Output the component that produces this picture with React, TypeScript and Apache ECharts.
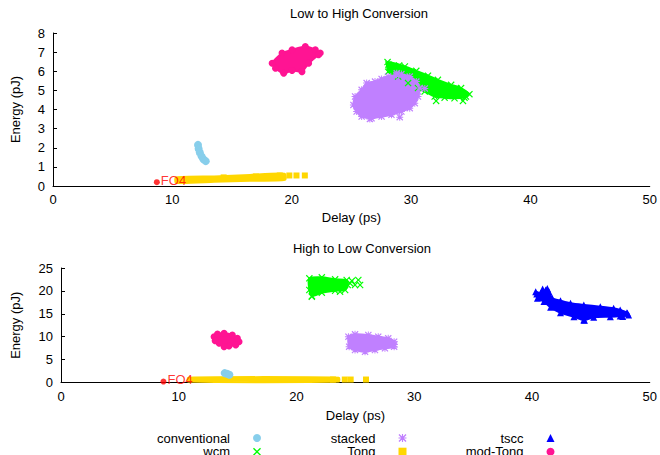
import React, { useEffect, useRef } from "react";
import * as echarts from "echarts";

const FONT = "'Liberation Sans', Arial, sans-serif";

const seriesNames = ["conventional", "wcm", "stacked", "Tong", "tscc", "mod-Tong"];
const seriesColors = ["#87ceeb", "#00ff00", "#c080ff", "#ffd700", "#0000ff", "#ff1493"];
const titles = ["Low to High Conversion", "High to Low Conversion"];
const xTickStep = 10;
const xMax = 50;
const yMaxes = [8, 25];
const ySteps = [1, 5];

// ---------- Top chart: Low to High Conversion (delay ps, energy pJ) ----------
const lhFO4 = [[8.7, 0.2]];
const lhConventional = [[12.15, 2.15], [12.2, 1.95], [12.3, 1.75], [12.45, 1.55], [12.6, 1.4], [12.8, 1.3]];
const lhWcmCloud = [
  [28.03, 6.48], [29.48, 6.25], [30.44, 6.02], [31.42, 5.77], [32.25, 5.55], [33.36, 5.29], [34.19, 5.12], [34.89, 4.8],
  [34.48, 4.62], [33.64, 4.59], [32.81, 4.62], [31.98, 4.68], [31.14, 4.94], [30.58, 5.12], [29.75, 5.38], [28.92, 5.72], [28.08, 5.98],
];
const lhWcmPoints = [[32.1, 4.45], [34.35, 4.45], [34.6, 4.68], [33.8, 5.1], [28.1, 6.35], [29.0, 6.3]];
const lhStackedCloud = [
  [25.17, 4.24], [25.31, 4.68], [25.86, 5.03], [26.28, 5.38], [26.98, 5.46], [27.53, 5.6], [28.08, 5.72], [28.78, 5.81],
  [29.19, 5.85], [29.89, 5.72], [30.44, 5.46], [30.73, 5.12], [30.58, 4.68], [30.31, 4.33], [29.89, 4.07], [29.19, 3.89],
  [28.36, 3.72], [27.53, 3.63], [26.69, 3.54], [25.86, 3.63], [25.44, 3.89],
];
const lhStackedPoints = [[26.55, 3.5], [29.05, 3.6], [31.15, 5.1], [28.8, 5.9]];
const lhTongBand = [[10.3, 0.45], [13.5, 0.5], [16.5, 0.58], [19.4, 0.64], [19.45, 0.32], [16.5, 0.27], [13.5, 0.22], [10.3, 0.17]];
const lhTongPoints = [[10.5, 0.3], [12.0, 0.35], [14.3, 0.45], [17.0, 0.5], [19.0, 0.55], [19.8, 0.55], [20.4, 0.55], [21.1, 0.55]];
const lhModTongCloud = [
  [18.36, 6.42], [19.19, 6.95], [20.03, 7.12], [21.14, 7.29], [21.98, 7.12], [22.39, 6.95], [22.25, 6.86],
  [21.42, 6.42], [20.86, 5.98], [20.03, 6.04], [19.33, 5.9], [18.64, 6.16],
];

// ---------- Bottom chart: High to Low Conversion ----------
const hlFO4 = [[8.7, 0.2]];
const hlConventional = [[13.9, 2.05], [14.1, 1.9], [14.3, 1.7]];
const hlWcmCloud = [
  [21.09, 22.75], [22.15, 22.97], [23.28, 22.53], [24.26, 22.38], [24.35, 21.29], [24.13, 20.2],
  [23.28, 20.04], [22.15, 19.61], [21.31, 18.89], [21.09, 20.2],
];
const hlWcmPoints = [[24.55, 21.66], [24.97, 21.29], [25.4, 21.29], [25.25, 22.38], [23.7, 19.83], [21.3, 18.73], [24.7, 22.2]];
const hlStackedCloud = [
  [24.41, 10.0], [24.97, 10.52], [26.1, 10.37], [26.94, 10.0], [27.79, 9.65], [28.29, 8.91],
  [28.29, 7.82], [27.51, 7.47], [26.66, 7.1], [25.82, 6.72], [24.97, 7.1], [24.47, 7.82],
];
const hlStackedPoints = [[28.3, 8.3]];
const hlTongBand = [[10.8, 1.05], [23.6, 1.05], [23.6, 0.2], [10.8, 0.2]];
const hlTongPoints = [[23.1, 0.65], [24.1, 0.65], [24.6, 0.65], [25.9, 0.65]];
const hlTsccCloud = [
  [40.31, 19.83], [40.73, 19.48], [41.16, 20.2], [41.44, 19.83], [41.72, 18.38], [42.42, 17.86], [43.27, 17.29],
  [44.4, 16.92], [45.8, 16.55], [46.93, 16.2], [47.49, 15.83], [48.06, 15.24],
  [48.2, 14.74], [47.49, 14.52], [46.65, 14.37], [45.24, 14.24], [44.4, 13.65], [43.56, 14.37],
  [42.42, 15.24], [41.58, 16.42], [41.02, 17.66], [40.46, 18.38],
];
const hlTsccPoints = [[40.9, 20.4], [41.3, 20.5], [44.45, 13.6], [47.6, 15.2], [47.7, 14.4], [48.1, 15.1], [40.4, 19.3]];
const hlModTongCloud = [
  [13.0, 10.0], [13.29, 10.59], [13.85, 10.74], [14.55, 10.37], [14.98, 9.65], [15.12, 8.91],
  [14.84, 8.19], [14.27, 7.97], [13.85, 7.82], [13.43, 8.56], [13.09, 9.13],
];

const crossPath = "path://M0,1.2L1.2,0L5,3.8L8.8,0L10,1.2L6.2,5L10,8.8L8.8,10L5,6.2L1.2,10L0,8.8L3.8,5Z";
const starPath =
  "path://M0,1.2L1.2,0L5,3.8L8.8,0L10,1.2L6.2,5L10,8.8L8.8,10L5,6.2L1.2,10L0,8.8L3.8,5Z" +
  "M4.3,0L5.7,0L5.7,4.3L10,4.3L10,5.7L5.7,5.7L5.7,10L4.3,10L4.3,5.7L0,5.7L0,4.3L4.3,4.3Z";
const symbols = ["circle", crossPath, starPath, "rect", "triangle", "circle"];
const symbolSizes = [8, 7, 7, 6, 7, 7];

function scatter(idx: number, gi: number, data: number[][], size?: number) {
  return {
    type: "scatter",
    name: seriesNames[idx],
    xAxisIndex: gi,
    yAxisIndex: gi,
    data,
    symbol: symbols[idx],
    symbolSize: size ?? symbolSizes[idx],
    itemStyle: { color: seriesColors[idx], opacity: 1 },
    silent: true,
    clip: false,
  };
}

function cloud(idx: number, gi: number, outline: number[][]) {
  const color = seriesColors[idx];
  return {
    type: "custom",
    name: seriesNames[idx] + " cloud",
    xAxisIndex: gi,
    yAxisIndex: gi,
    data: outline,
    silent: true,
    clip: false,
    renderItem: (params: any, api: any) => {
      if (params.dataIndex !== 0) return null;
      const pts = outline.map((p) => api.coord(p));
      return {
        type: "polygon",
        shape: { points: pts, smooth: 0.2 },
        style: { fill: color, stroke: color, lineWidth: 2 },
      };
    },
  };
}

function fo4(gi: number, data: number[][]) {
  return {
    type: "scatter",
    name: "FO4",
    xAxisIndex: gi,
    yAxisIndex: gi,
    data,
    symbol: "circle",
    symbolSize: 6,
    itemStyle: { color: "#ff0000" },
    silent: true,
    clip: false,
    label: {
      show: true,
      formatter: "FO4",
      position: "right",
      distance: 1,
      offset: [0, -2],
      color: "#ff0000",
      fontSize: 13,
      fontFamily: FONT,
    },
  };
}

const legendIconCenters = [257, 257, 402.5, 402.5, 550.5, 550.5];
const legendRows = [438, 451.7, 438, 451.7, 438, 451.7];

export default function App() {
  const ref = useRef<HTMLDivElement>(null);
  useEffect(() => {
    if (!ref.current) return;
    const chart = echarts.init(ref.current, undefined, { renderer: "svg" });
    const grids = [
      { left: 53, right: 7, top: 33, height: 153 },
      { left: 61, right: 7, top: 268, height: 114.5 },
    ];
    const xAxes = [0, 1].map((gi) => ({
      type: "value",
      gridIndex: gi,
      min: 0,
      max: xMax,
      interval: xTickStep,
      name: "Delay (ps)",
      nameLocation: "middle",
      nameGap: gi === 0 ? 25 : 26,
      nameTextStyle: { fontSize: 13, color: "#000", fontFamily: FONT },
      axisLine: { show: true, onZero: false, lineStyle: { color: "#000", width: 1 } },
      axisTick: { show: false },
      axisLabel: { fontSize: 13, color: "#000", margin: 7, fontFamily: FONT },
      splitLine: { show: false },
    }));
    const yAxes = [0, 1].map((gi) => ({
      type: "value",
      gridIndex: gi,
      min: 0,
      max: yMaxes[gi],
      interval: ySteps[gi],
      name: "Energy (pJ)",
      nameLocation: "middle",
      nameGap: gi === 0 ? 31 : 39,
      nameTextStyle: { fontSize: 13, color: "#000", fontFamily: FONT },
      axisLine: { show: true, onZero: false, lineStyle: { color: "#000", width: 1 } },
      axisTick: { show: true, inside: true, length: 4, lineStyle: { color: "#000" } },
      axisLabel: { fontSize: 13, color: "#000", margin: 8, fontFamily: FONT },
      splitLine: { show: false },
    }));
    const legends = seriesNames.map((n, i) => ({
      data: [{ name: n, icon: symbols[i] }],
      align: "right",
      orient: "horizontal",
      right: 660 - (legendIconCenters[i] + 4),
      top: legendRows[i] - 6.5,
      padding: 0,
      itemWidth: 8,
      itemHeight: 8,
      selectedMode: false,
      formatter: "{a|{name}}",
      textStyle: {
        fontSize: 13,
        color: "#000",
        fontFamily: FONT,
        rich: { a: { fontSize: 13, color: "#000", fontFamily: FONT, padding: [0, 18, 0, 0] } },
      },
    }));
    const series: any[] = [
      // top chart
      scatter(0, 0, lhConventional),
      cloud(1, 0, lhWcmCloud),
      scatter(1, 0, lhWcmCloud.concat(lhWcmPoints)),
      cloud(2, 0, lhStackedCloud),
      scatter(2, 0, lhStackedCloud.concat(lhStackedPoints)),
      cloud(3, 0, lhTongBand),
      scatter(3, 0, lhTongPoints),
      cloud(5, 0, lhModTongCloud),
      scatter(5, 0, lhModTongCloud),
      fo4(0, lhFO4),
      // bottom chart
      scatter(0, 1, hlConventional),
      cloud(1, 1, hlWcmCloud),
      scatter(1, 1, hlWcmCloud.concat(hlWcmPoints)),
      cloud(2, 1, hlStackedCloud),
      scatter(2, 1, hlStackedCloud.concat(hlStackedPoints)),
      cloud(3, 1, hlTongBand),
      scatter(3, 1, hlTongPoints),
      cloud(4, 1, hlTsccCloud),
      scatter(4, 1, hlTsccCloud.concat(hlTsccPoints)),
      cloud(5, 1, hlModTongCloud),
      scatter(5, 1, hlModTongCloud),
      fo4(1, hlFO4),
    ];
    chart.setOption({
      animation: false,
      backgroundColor: "#fff",
      textStyle: { fontFamily: FONT },
      title: [
        { text: titles[0], left: 354, top: 2, textAlign: "center", textStyle: { fontSize: 13, fontWeight: "normal", color: "#000", fontFamily: FONT } },
        { text: titles[1], left: 357, top: 237, textAlign: "center", textStyle: { fontSize: 13, fontWeight: "normal", color: "#000", fontFamily: FONT } },
      ],
      grid: grids,
      xAxis: xAxes,
      yAxis: yAxes,
      legend: legends,
      series,
    });
    return () => chart.dispose();
  }, []);
  return (
    <div
      ref={ref}
      style={{ position: "fixed", left: 0, top: 0, width: 660, height: 455, background: "#fff" }}
    />
  );
}
